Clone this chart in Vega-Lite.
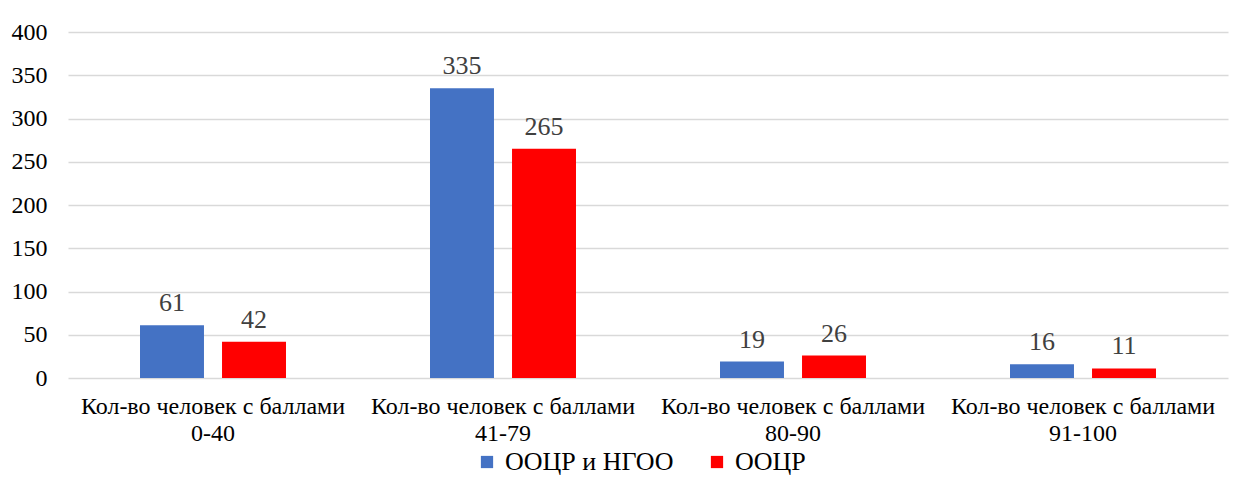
{
  "$schema": "https://vega.github.io/schema/vega-lite/v6.json",
  "autosize": "none",
  "width": 1160,
  "height": 346,
  "padding": {"left": 68, "top": 32, "right": 27, "bottom": 116},
  "background": "white",
  "config": {
    "font": "Liberation Serif",
    "view": {"stroke": null}
  },
  "data": {
    "values": [
      {"cat": "Кол-во человек с баллами\n0-40", "series": "ООЦР и НГОО", "value": 61},
      {"cat": "Кол-во человек с баллами\n0-40", "series": "ООЦР", "value": 42},
      {"cat": "Кол-во человек с баллами\n41-79", "series": "ООЦР и НГОО", "value": 335},
      {"cat": "Кол-во человек с баллами\n41-79", "series": "ООЦР", "value": 265},
      {"cat": "Кол-во человек с баллами\n80-90", "series": "ООЦР и НГОО", "value": 19},
      {"cat": "Кол-во человек с баллами\n80-90", "series": "ООЦР", "value": 26},
      {"cat": "Кол-во человек с баллами\n91-100", "series": "ООЦР и НГОО", "value": 16},
      {"cat": "Кол-во человек с баллами\n91-100", "series": "ООЦР", "value": 11}
    ]
  },
  "encoding": {
    "x": {
      "field": "cat",
      "type": "nominal",
      "sort": null,
      "scale": {"paddingInner": 0.4966, "paddingOuter": 0.2483},
      "axis": {
        "title": null,
        "labelAngle": 0,
        "labelExpr": "split(datum.label, '\\n')",
        "labelFont": "Liberation Serif",
        "labelFontSize": 24,
        "labelLimit": 0,
        "labelColor": "#000000",
        "labelLineHeight": 27,
        "labelPadding": 28,
        "labelBaseline": "middle",
        "ticks": false,
        "domain": false,
        "grid": false
      }
    },
    "xOffset": {
      "field": "series",
      "type": "nominal",
      "sort": ["ООЦР и НГОО", "ООЦР"],
      "scale": {"paddingInner": 0.22, "paddingOuter": 0}
    },
    "y": {
      "field": "value",
      "type": "quantitative",
      "scale": {"domain": [0, 400], "nice": false},
      "axis": {
        "title": null,
        "values": [0, 50, 100, 150, 200, 250, 300, 350, 400],
        "labelFont": "Liberation Serif",
        "labelFontSize": 24,
        "labelColor": "#000000",
        "labelPadding": 21,
        "ticks": false,
        "domain": false,
        "grid": true,
        "gridColor": "#d9d9d9",
        "gridWidth": 1.5
      }
    }
  },
  "layer": [
    {
      "mark": {"type": "bar"},
      "encoding": {
        "color": {
          "field": "series",
          "type": "nominal",
          "sort": ["ООЦР и НГОО", "ООЦР"],
          "scale": {"domain": ["ООЦР и НГОО", "ООЦР"], "range": ["#4472C4", "#FF0000"]},
          "legend": {
            "title": null,
            "orient": "none",
            "direction": "horizontal",
            "legendX": 406,
            "legendY": 417,
            "symbolType": "square",
            "symbolSize": 150,
            "symbolStrokeWidth": 0,
            "labelFont": "Liberation Serif",
            "labelFontSize": 26,
            "labelLimit": 0,
            "labelColor": "#000000",
            "labelOffset": 5,
            "columnPadding": 30
          }
        }
      }
    },
    {
      "mark": {"type": "text", "baseline": "bottom", "dy": -9, "fontSize": 26, "color": "#404040", "font": "Liberation Serif"},
      "encoding": {
        "text": {"field": "value", "type": "quantitative"}
      }
    }
  ]
}
